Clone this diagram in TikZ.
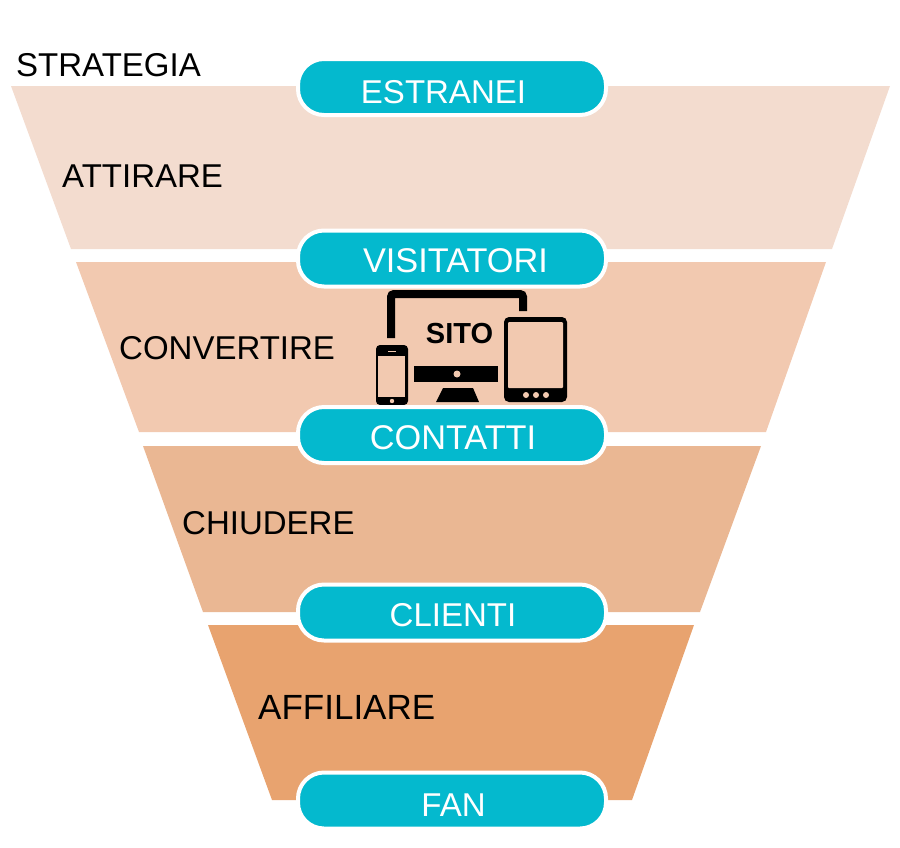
\documentclass[tikz,border=0pt]{standalone}
\usepackage{fontspec}
\setmainfont{Liberation Sans}
\usetikzlibrary{positioning}
\definecolor{bandA}{HTML}{F3DCCF}
\definecolor{bandB}{HTML}{F2C9B0}
\definecolor{bandC}{HTML}{EAB793}
\definecolor{bandD}{HTML}{E8A36F}
\definecolor{pillteal}{HTML}{04B9CE}
\begin{document}
\begin{tikzpicture}[x=1pt,y=-1pt,
    every node/.style={font=\fontsize{33}{36}\selectfont},
    wide/.style={font=\fontsize{34.3}{36}\selectfont},
    pill/.style={draw=white,line width=4pt,fill=pillteal,rounded corners=26pt,minimum width=308pt,minimum height=56pt,inner sep=0pt},
    pilltext/.style={anchor=base,text=white},
    phase/.style={anchor=base west,text=black,inner sep=0pt},
    device/.style={fill=black,rounded corners=4pt}]
        \useasboundingbox (0,0) rectangle (900,847);

        % funnel bands
        \fill[bandA] (11,86) -- (890,86) -- (832,249) -- (71,249) -- cycle;
        \fill[bandB] (76,262) -- (826,262) -- (766,432) -- (139,432) -- cycle;
        \fill[bandC] (143,446) -- (761,446) -- (700,612) -- (203,612) -- cycle;
        \fill[bandD] (208,625) -- (694,625) -- (632,800) -- (272,800) -- cycle;

        % devices
        \draw[line width=8pt,rounded corners=3pt] (391,338) -- (391,294) -- (523,294) -- (523,311);
        \fill[device] (376,345) rectangle (408,405);
        \fill[bandB] (378,356) rectangle (405,397);
        \fill[bandB] (392,401) circle (2.2);
        \fill[bandB] (388,350.5) rectangle (396,352);
        \fill[device,rounded corners=5pt] (504,317) rectangle (567,402);
        \fill[bandB,rounded corners=1pt] (508,322) rectangle (563,388);
        \foreach \dotx in {526,536,546}
            \fill[bandB] (\dotx,395) circle (3);
        \fill (414,366) rectangle (498,382);
        \fill[bandB] (457,374) circle (3.5);
        \fill (443,388) -- (473,388) -- (479,402) -- (436,402) -- cycle;
        \node[anchor=base,font=\fontsize{29}{32}\selectfont\bfseries,inner sep=0pt] (sito) at (459.5,343) {SITO};

        % stages
        \node[pill] (estranei)   at (452,87)    {};
        \node[pill] (visitatori) at (452,258.5) {};
        \node[pill] (contatti)   at (452,435)   {};
        \node[pill] (clienti)    at (452,612.5) {};
        \node[pill] (fan)        at (452,800.5) {};

        \node[pilltext] (estraneitext)   at (443.5,103) {ESTRANEI};
        \node[pilltext,wide] (visitatoritext) at (455.5,272) {VISITATORI};
        \node[pilltext,wide] (contattitext)   at (453,449)   {CONTATTI};
        \node[pilltext] (clientitext)    at (453,626)   {CLIENTI};
        \node[pilltext] (fantext)        at (453.5,816) {FAN};

        % phases
        \node[phase] (strategia)  at (16,76)   {STRATEGIA};
        \node[phase] (attirare)   at (62,187)  {ATTIRARE};
        \node[phase] (convertire) at (119,359) {CONVERTIRE};
        \node[phase] (chiudere)   at (182,534) {CHIUDERE};
        \node[phase,font=\fontsize{35}{36}\selectfont] (affiliare)  at (258,719) {AFFILIARE};
    \end{tikzpicture}
\end{document}
